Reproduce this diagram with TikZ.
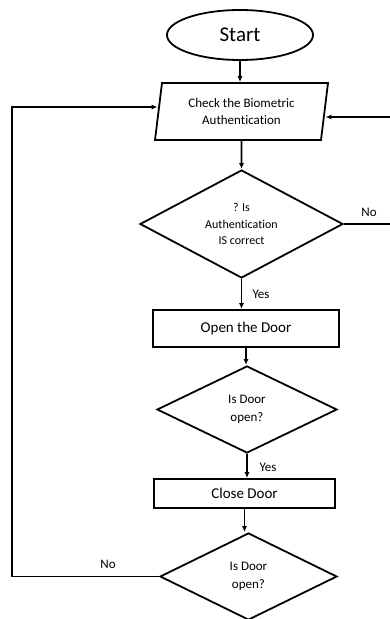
\documentclass[tikz,border=0pt]{standalone}
\usepackage{fontspec}
\setmainfont{Carlito}[Ligatures=NoCommon]
\usetikzlibrary{shapes.geometric}
\usepgflibrary{arrows.meta}
\tikzset{
	flow/.style={line width=1.8pt},
	arr/.style={flow,-{Latex[length=6pt,width=5pt]}},
	blk/.style={draw,line width=1.8pt,align=center,inner sep=0pt},
	dec/.style={blk,diamond},
	lbl/.style={font=\fontsize{13}{16}\selectfont}
}

\begin{document}
\begin{tikzpicture}[x=1pt,y=-1pt]
		\useasboundingbox (0,0) rectangle (390,619);
		\node [blk,ellipse,minimum width=146pt,minimum height=50pt,font=\fontsize{21}{25}\selectfont] (start) at (240,35) {Start};
		\node [blk,trapezium,trapezium left angle=75,trapezium right angle=105,trapezium stretches body,minimum width=173pt,minimum height=57pt,font=\fontsize{13}{17}\selectfont] (check) at (241.5,111.5) {Check the Biometric\\Authentication};
		\node [dec,aspect=1.9,minimum width=203pt,minimum height=108pt,font=\fontsize{12}{16.5}\selectfont] (auth) at (241.5,224) {? Is\\Authentication\\IS correct};
		\node [blk,minimum width=186pt,minimum height=37pt,font=\fontsize{15}{18}\selectfont] (open) at (246,328.5) {Open the Door};
		\node [dec,aspect=2,minimum width=180pt,minimum height=87pt,font=\fontsize{13}{18}\selectfont] (isopen) at (247,409.5) {Is Door\\open?};
		\node [blk,minimum width=181pt,minimum height=29pt,font=\fontsize{15}{18}\selectfont] (close) at (244.5,493.5) {Close Door};
		\node [dec,aspect=2,minimum width=177pt,minimum height=87pt,font=\fontsize{13}{18}\selectfont] (closed) at (248.5,576.5) {Is Door\\open?};
		\coordinate (loopL) at (12,576.5);
		\coordinate (noR) at (390,224);
		\coordinate (backR) at (390,117);
		\draw [arr] (start.south) -- (start.south |- check.north);
		\draw [arr] (check.south) -- (auth.north);
		\draw [arr] (auth.south) -- (auth.south |- open.north);
		\draw [flow] (auth.east) -- (noR);
		\draw [arr] (backR) -- ([yshift=-5.5pt]check.east);
		\draw [arr] (open.south) -- (open.south |- isopen.north);
		\draw [arr] (isopen.south) -- (isopen.south |- close.north);
		\draw [arr] (close.south) -- (close.south |- closed.north);
		\draw [arr] (closed.west) -- (loopL) |- ([yshift=4.5pt]check.west);
		\node [lbl] (yes1) at (261,294) {Yes};
		\node [lbl] (no1) at (369,212) {No};
		\node [lbl] (yes2) at (268,467) {Yes};
		\node [lbl] (no2) at (108,564) {No};
	\end{tikzpicture}
\end{document}
